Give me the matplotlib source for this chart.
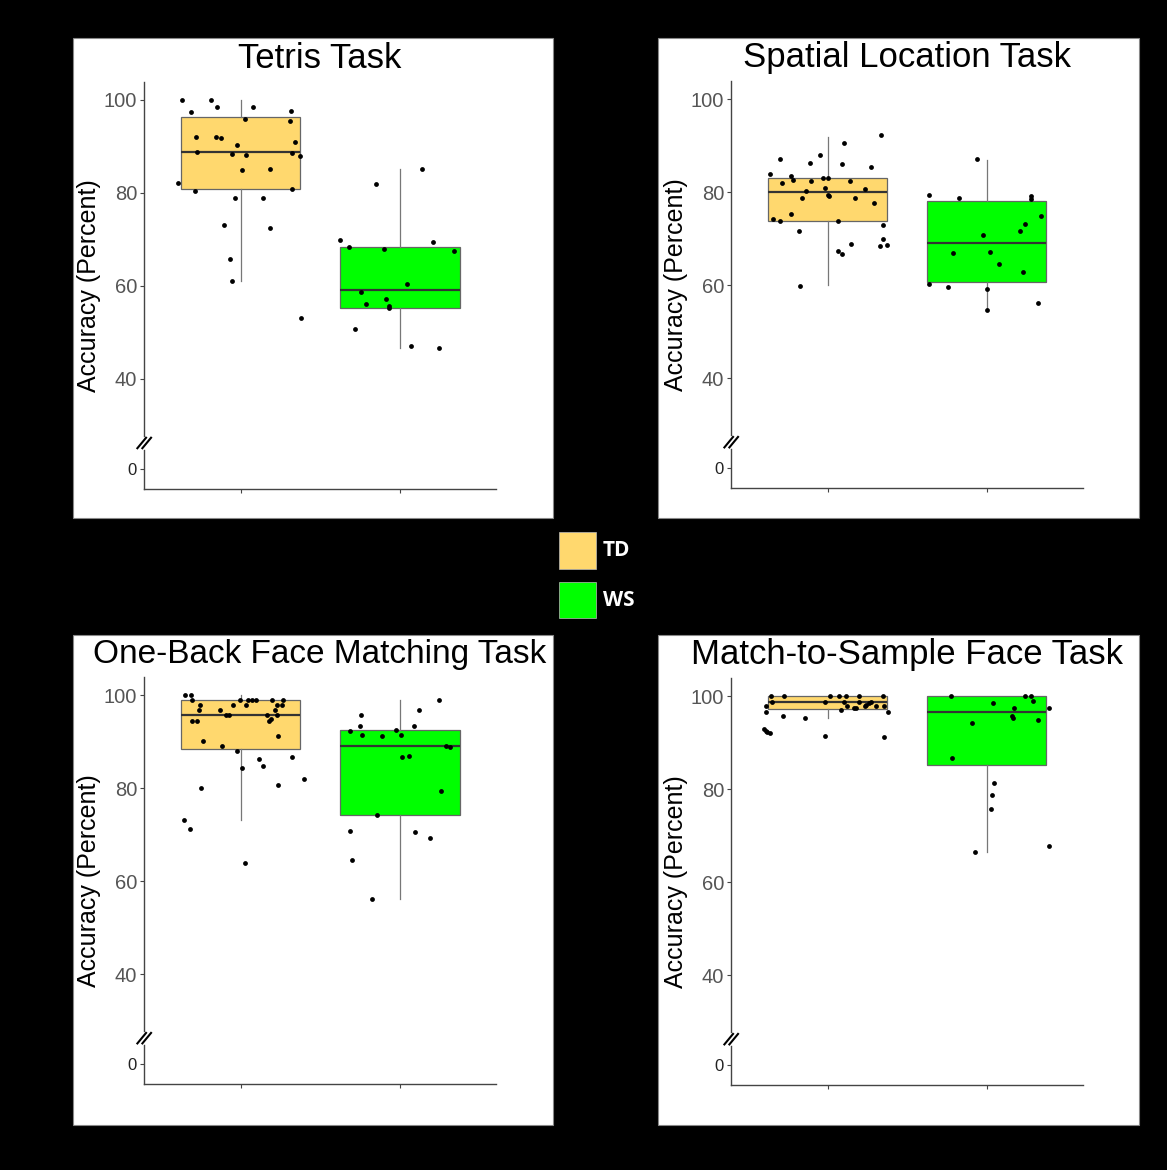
import numpy as np
import matplotlib
matplotlib.use('Agg')
import matplotlib.pyplot as plt
from matplotlib.patches import Rectangle

plt.rcParams['font.family'] = ['Liberation Sans', 'DejaVu Sans']

W, H = 1167, 1170
DPI = 100

# ---- data ----
titles = ['Tetris Task', 'Spatial Location Task',
          'One-Back Face Matching Task', 'Match-to-Sample Face Task']
groups = ['TD', 'WS']
colors = ['#FFD86E', '#00FF00']

# box stats: whislo, q1, median, q3, whishi
tetris_td_box = [61.1, 80.8, 88.7, 96.3, 100.0]
tetris_ws_box = [46.6, 55.2, 59.1, 68.4, 85.1]
spatial_td_box = [60.0, 73.7, 80.0, 83.1, 91.8]
spatial_ws_box = [54.6, 60.7, 69.0, 78.0, 86.8]
oneback_td_box = [73.2, 88.3, 95.6, 98.9, 100.0]
oneback_ws_box = [56.2, 74.3, 89.0, 92.4, 98.9]
match_td_box = [95.3, 97.2, 98.7, 100.0, 100.0]
match_ws_box = [66.5, 85.2, 96.6, 100.0, 100.0]

# individual scores and their horizontal jitter
tetris_td = [99.9, 97.4, 100.0, 98.5, 98.4, 97.7, 95.5, 95.9, 92.1, 92.1,
             91.8, 91.0, 90.2, 88.8, 88.3, 88.2, 88.5, 87.9, 85.0, 85.2,
             82.2, 80.4, 80.8, 78.9, 78.9, 73.1, 72.4, 65.7, 61.1, 53.0]
tetris_td_jit = [-0.370, -0.310, -0.186, -0.151, 0.077, 0.316, 0.312, 0.025, -0.280, -0.155,
                 -0.126, 0.339, -0.025, -0.276, -0.054, 0.036, 0.324, 0.372, 0.008, 0.186,
                 -0.395, -0.289, 0.320, -0.033, 0.142, -0.105, 0.186, -0.069, -0.056, 0.377]
tetris_ws = [69.8, 68.3, 68.0, 69.4, 67.4, 81.8, 85.1, 60.3, 58.6, 57.2,
             56.0, 55.6, 55.2, 50.8, 47.0, 46.6]
tetris_ws_jit = [-0.377, -0.320, -0.103, 0.209, 0.337, -0.153, 0.136, 0.046, -0.245, -0.088,
                 -0.213, -0.067, -0.071, -0.282, 0.069, 0.243]

spatial_td = [92.2, 90.6, 88.0, 87.1, 86.3, 86.0, 85.3, 83.9, 83.5, 82.6,
              82.0, 82.3, 83.0, 83.0, 82.3, 80.8, 80.7, 80.2, 79.4, 79.2,
              78.8, 78.8, 77.7, 74.1, 73.7, 75.2, 73.7, 72.9, 71.6, 70.0,
              68.9, 68.3, 68.6, 67.3, 66.6, 59.8]
spatial_td_jit = [0.338, 0.102, -0.050, -0.298, -0.113, 0.088, 0.273, -0.363, -0.229, -0.215,
                  -0.288, -0.102, -0.031, 0.002, 0.142, -0.017, 0.238, -0.135, 0.002, 0.006,
                  -0.160, 0.171, 0.292, -0.344, -0.298, -0.233, 0.063, 0.348, -0.177, 0.348,
                  0.150, 0.327, 0.373, 0.067, 0.092, -0.171]
spatial_ws = [87.1, 79.3, 78.7, 79.1, 78.5, 74.8, 73.2, 71.7, 70.8, 66.9,
              67.1, 64.5, 62.9, 60.3, 59.6, 59.2, 54.6, 56.2]
spatial_ws_jit = [-0.063, -0.365, -0.175, 0.275, 0.275, 0.338, 0.240, 0.208, -0.023, -0.210,
                  0.023, 0.075, 0.231, -0.363, -0.246, 0.0, 0.002, 0.319]

oneback_td = [100.0, 100.0, 99.0, 97.9, 96.8, 94.5, 94.5, 90.1, 96.8, 95.6,
              95.6, 97.8, 99.0, 97.9, 99.0, 99.0, 99.0, 95.6, 94.5, 94.9,
              99.0, 96.8, 97.8, 95.6, 97.9, 99.0, 91.1, 89.1, 88.0, 84.4,
              86.3, 84.7, 86.6, 80.7, 82.0, 80.0, 73.1, 71.2, 63.8]
oneback_td_jit = [-0.349, -0.312, -0.303, -0.255, -0.262, -0.305, -0.272, -0.236, -0.128, -0.094,
                  -0.075, -0.048, -0.002, 0.031, 0.048, 0.073, 0.094, 0.163, 0.176, 0.192,
                  0.197, 0.213, 0.226, 0.230, 0.262, 0.268, 0.236, -0.117, -0.021, 0.008,
                  0.117, 0.142, 0.324, 0.236, 0.395, -0.249, -0.358, -0.318, 0.029]
oneback_ws = [92.3, 93.3, 95.6, 91.3, 91.2, 92.4, 91.3, 93.3, 96.7, 99.0,
              86.6, 86.9, 89.1, 88.8, 79.3, 74.2, 70.8, 64.5, 70.6, 69.2, 56.1]
oneback_ws_jit = [-0.314, -0.253, -0.245, -0.238, -0.115, -0.025, 0.004, 0.090, 0.119, 0.245,
                  0.015, 0.056, 0.287, 0.314, 0.257, -0.146, -0.316, -0.299, 0.092, 0.190, -0.176]

match_td = [100.0, 100.0, 100.0, 100.0, 100.0, 100.0, 100.0, 98.7, 98.7, 98.7,
            98.7, 98.7, 98.4, 98.1, 97.8, 97.8, 97.4, 97.4, 97.8, 97.8,
            97.8, 96.6, 96.9, 96.6, 95.6, 95.3, 92.9, 92.5, 92.2, 92.0,
            91.4, 91.1]
match_td_jit = [-0.358, -0.277, 0.015, 0.069, 0.113, 0.200, 0.348, -0.348, -0.017, 0.100,
                0.196, 0.275, 0.260, 0.244, 0.233, 0.125, 0.169, 0.179, 0.302, 0.356,
                -0.385, -0.385, 0.083, 0.381, -0.279, -0.142, -0.400, -0.390, -0.379, -0.365,
                -0.019, 0.352]
match_ws = [100.0, 100.0, 100.0, 98.9, 98.6, 97.4, 97.4, 95.6, 95.3, 94.9,
            94.1, 86.6, 81.4, 78.8, 75.6, 67.7, 66.5]
match_ws_jit = [-0.223, 0.238, 0.275, 0.288, 0.042, 0.173, 0.392, 0.158, 0.165, 0.321,
                -0.090, -0.221, 0.046, 0.035, 0.027, 0.392, -0.071]

panels = [
    (titles[0], tetris_td_box, tetris_ws_box, tetris_td, tetris_td_jit, tetris_ws, tetris_ws_jit),
    (titles[1], spatial_td_box, spatial_ws_box, spatial_td, spatial_td_jit, spatial_ws, spatial_ws_jit),
    (titles[2], oneback_td_box, oneback_ws_box, oneback_td, oneback_td_jit, oneback_ws, oneback_ws_jit),
    (titles[3], match_td_box, match_ws_box, match_td, match_td_jit, match_ws, match_ws_jit),
]
title_sizes = [25, 25, 24, 25]

# ---- layout (pixels, top-left origin) ----
panel_rects = [(72.7, 38.3, 480.6, 480), (657.7, 38.3, 481.3, 480),
               (72.7, 635, 480, 490), (657.7, 635, 481.3, 490)]
axes_rects = [(144, 81.7, 352, 407.3), (731, 80.9, 351.7, 407.3),
              (144, 676.9, 352, 407.3), (731, 677.9, 351.7, 407.3)]

ylo, yhi = 16.3, 103.9
zero_pos = 20.6
brk = 26.2
axc = '#444444'

fig = plt.figure(figsize=(W / DPI, H / DPI), dpi=DPI, facecolor='black')

for (x, y, w, h) in panel_rects:
    fig.patches.append(Rectangle((x / W, 1 - (y + h) / H), w / W, h / H,
                                 transform=fig.transFigure, facecolor='white',
                                 edgecolor='#888888', lw=0.8, zorder=-5))


def draw_panel(ax, title, td_box, ws_box, td, td_jit, ws, ws_jit, tsize):
    stats = []
    for b in (td_box, ws_box):
        stats.append(dict(whislo=b[0], q1=b[1], med=b[2], q3=b[3], whishi=b[4], fliers=[]))
    bp = ax.bxp(stats, positions=[1, 2], widths=0.75, patch_artist=True, showcaps=False,
                showfliers=False,
                boxprops=dict(edgecolor='#666666', linewidth=0.9),
                whiskerprops=dict(color='#777777', linewidth=0.9),
                medianprops=dict(color='#333333', linewidth=1.6))
    for patch, c in zip(bp['boxes'], colors):
        patch.set_facecolor(c)

    ax.scatter(1 + np.array(td_jit), td, s=12, color='black', zorder=5, linewidths=0)
    ax.scatter(2 + np.array(ws_jit), ws, s=12, color='black', zorder=5, linewidths=0)

    ax.set_xlim(0.393, 2.603)
    ax.set_ylim(ylo, yhi)
    ax.set_facecolor('white')
    ax.set_xticks([1, 2])
    ax.set_xticklabels(['', ''])
    ax.set_yticks([zero_pos, 40, 60, 80, 100])
    ax.set_yticklabels(['0', '40', '60', '80', '100'])
    ax.tick_params(axis='both', length=3, width=0.8, color=axc)
    ax.tick_params(axis='y', labelsize=14.5, labelcolor='#555555', pad=2)
    lab0 = ax.get_yticklabels()[0]
    lab0.set_fontsize(12)
    lab0.set_color('#222222')

    for s in ('top', 'right', 'left'):
        ax.spines[s].set_visible(False)
    ax.spines['bottom'].set_color(axc)
    ax.spines['bottom'].set_linewidth(1.0)

    tr = ax.get_yaxis_transform()
    ax.plot([0, 0], [brk + 1.5, yhi], transform=tr, color=axc, lw=1.0, clip_on=False)
    ax.plot([0, 0], [ylo, brk - 1.5], transform=tr, color=axc, lw=1.0, clip_on=False)
    for cx in (-0.0065, 0.0077):
        ax.plot([cx - 0.0142, cx + 0.0142], [brk - 1.3, brk + 1.3], transform=tr,
                color='black', lw=1.5, clip_on=False, solid_capstyle='butt')

    ax.set_title(title, fontsize=tsize, pad=10, color='black')
    ax.set_ylabel('Accuracy (Percent)', fontsize=18, labelpad=2, color='black')


for (x, y, w, h), p, ts in zip(axes_rects, panels, title_sizes):
    ax = fig.add_axes([x / W, 1 - (y + h) / H, w / W, h / H])
    draw_panel(ax, *p, ts)

# ---- legend in the middle ----
leg_y = [532, 581.7]
for c, g, yy in zip(colors, groups, leg_y):
    fig.patches.append(Rectangle((559.3 / W, 1 - (yy + 36.5) / H), 36.4 / W, 36.5 / H,
                                 transform=fig.transFigure, facecolor=c,
                                 edgecolor='#bbbbbb', lw=0.5))
    fig.text(602.7 / W, 1 - (yy + 18.5) / H, g, color='white', fontsize=15,
             fontweight='bold', family=['Open Sans', 'DejaVu Sans'],
             ha='left', va='center')

fig.savefig('out.png', dpi=DPI, facecolor='black')
